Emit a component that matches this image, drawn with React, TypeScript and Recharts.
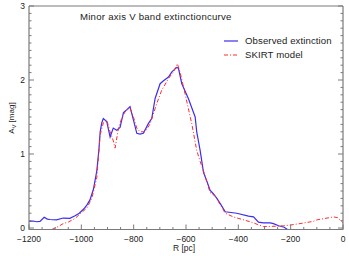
import React from 'react';
import { LineChart, Line, XAxis, YAxis } from 'recharts';

// observed minor axis extinction profile
const obsR = [
    -1200, -1185, -1170, -1158, -1142, -1130, -1120, -1095, -1069, -1044, -1024, -1008, -990, -979, -967, -954,
    -941, -933, -928, -922, -916, -903, -890, -878, -865, -852, -839, -826, -814, -801, -788, -776, -763, -744,
    -731, -718, -699, -686, -667, -654, -635, -629, -616, -591, -565, -559, -546, -533, -520, -508, -495, -482,
    -469, -450, -406, -361, -342, -323, -304, -278, -266, -246, -225, -212,
];
const obsA = [
    0.09, 0.095, 0.085, 0.09, 0.145, 0.12, 0.115, 0.11, 0.135, 0.13, 0.165, 0.2, 0.26, 0.31, 0.38, 0.52,
    0.77, 1.05, 1.3, 1.42, 1.48, 1.44, 1.23, 1.35, 1.32, 1.36, 1.56, 1.6, 1.64, 1.46, 1.28, 1.27, 1.28, 1.41,
    1.48, 1.75, 1.95, 1.99, 2.04, 2.11, 2.17, 2.16, 1.95, 1.75, 1.5, 1.3, 1.05, 0.75, 0.63, 0.51, 0.46, 0.4,
    0.33, 0.22, 0.2, 0.16, 0.15, 0.08, 0.07, 0.07, 0.06, 0.03, 0.01, -0.02,
];

// SKIRT model
const modelR = [
    -1113, -1088, -1069, -1050, -1024, -1005, -979, -960, -941, -928, -916, -903, -890, -878, -871, -858, -846,
    -833, -814, -801, -788, -776, -756, -737, -712, -693, -667, -648, -633, -623, -604, -578, -559, -546, -533,
    -508, -488, -450, -419, -355, -304, -291, -253, -227, -202, -164, -113, -100, -36, -20, 0,
];
const modelA = [
    -0.02, 0.02, 0.06, 0.08, 0.13, 0.19, 0.27, 0.4, 0.68, 1.26, 1.42, 1.46, 1.3, 1.18, 1.08, 1.35, 1.48,
    1.57, 1.62, 1.5, 1.35, 1.3, 1.3, 1.41, 1.68, 1.86, 2.02, 2.11, 2.22, 2.11, 1.82, 1.41, 1.05, 0.9, 0.77,
    0.48, 0.43, 0.2, 0.15, 0.085, 0.02, 0.02, 0.025, 0.03, 0.04, 0.06, 0.09, 0.11, 0.15, 0.14, 0.07,
];

const xMajor = [-1200, -1000, -800, -600, -400, -200, 0];
const yMajor = [0, 1, 2, 3];

const xTicks = Array.from({ length: 25 }, (_, i) => -1200 + i * 50);
const yTicks = Array.from({ length: 31 }, (_, i) => i / 10);

const observed = obsR.map((r, i) => ({ r, a: obsA[i] }));
const model = modelR.map((r, i) => ({ r, a: modelA[i] }));

const AXIS = '#7a7a7a';
const FONT = '"Liberation Sans", Arial, sans-serif';
const TXT = '#222';

const isXMajor = (v: number) => xMajor.includes(v);
const isYMajor = (v: number) => yMajor.some((m) => Math.abs(m - v) < 1e-6);
const fmt = (v: number) => (v < 0 ? '\u2212' + Math.abs(v) : String(v));

const BottomTick = (p: any) => {
    const major = isXMajor(p.payload.value);
    return (
        <g>
            <line x1={p.x} y1={p.y} x2={p.x} y2={p.y - (major ? 5 : 2.5)} stroke={AXIS} />
            {major && (
                <text x={p.x} y={p.y + 12} textAnchor="middle" fontSize={8.5} fontFamily={FONT} fill={TXT}>
                    {fmt(p.payload.value)}
                </text>
            )}
        </g>
    );
};

const TopTick = (p: any) => {
    const major = isXMajor(p.payload.value);
    return <line x1={p.x} y1={p.y} x2={p.x} y2={p.y + (major ? 5 : 2.5)} stroke={AXIS} />;
};

const LeftTick = (p: any) => {
    const major = isYMajor(p.payload.value);
    return (
        <g>
            <line x1={p.x} y1={p.y} x2={p.x + (major ? 5 : 2.5)} y2={p.y} stroke={AXIS} />
            {major && (
                <text x={p.x - 4} y={p.y + 3} textAnchor="end" fontSize={8.5} fontFamily={FONT} fill={TXT}>
                    {Math.round(p.payload.value)}
                </text>
            )}
        </g>
    );
};

const RightTick = (p: any) => {
    const major = isYMajor(p.payload.value);
    return <line x1={p.x} y1={p.y} x2={p.x - (major ? 5 : 2.5)} y2={p.y} stroke={AXIS} />;
};

export default function App() {
    return (
        <div style={{ position: 'absolute', left: 0, top: 0, width: 349, height: 256, background: '#fff' }}>
            <LineChart width={349} height={256} margin={{ top: 0, right: 0, bottom: 0, left: 0 }}>
                <XAxis
                    xAxisId="bottom"
                    orientation="bottom"
                    type="number"
                    dataKey="r"
                    domain={[-1200, 0]}
                    ticks={xTicks}
                    interval={0}
                    height={26.5}
                    tickSize={0}
                    tickMargin={0}
                    tick={BottomTick}
                    axisLine={{ stroke: AXIS, strokeWidth: 1.2 }}
                    allowDataOverflow
                />
                <XAxis
                    xAxisId="top"
                    orientation="top"
                    type="number"
                    domain={[-1200, 0]}
                    ticks={xTicks}
                    interval={0}
                    height={6}
                    tickSize={0}
                    tickMargin={0}
                    tick={TopTick}
                    axisLine={{ stroke: AXIS, strokeWidth: 1.2 }}
                    allowDataOverflow
                />
                <YAxis
                    yAxisId="left"
                    type="number"
                    domain={[-0.02, 3]}
                    ticks={yTicks}
                    interval={0}
                    width={29}
                    tickSize={0}
                    tickMargin={0}
                    tick={LeftTick}
                    axisLine={{ stroke: AXIS, strokeWidth: 1.2 }}
                    allowDataOverflow
                />
                <YAxis
                    yAxisId="right"
                    orientation="right"
                    type="number"
                    domain={[-0.02, 3]}
                    ticks={yTicks}
                    interval={0}
                    width={6}
                    tickSize={0}
                    tickMargin={0}
                    tick={RightTick}
                    axisLine={{ stroke: AXIS, strokeWidth: 1.2 }}
                    allowDataOverflow
                />
                <Line
                    xAxisId="bottom"
                    yAxisId="left"
                    data={observed}
                    dataKey="a"
                    type="linear"
                    stroke="#3a2ef0"
                    strokeWidth={1.2}
                    dot={false}
                    isAnimationActive={false}
                />
                <Line
                    xAxisId="bottom"
                    yAxisId="left"
                    data={model}
                    dataKey="a"
                    type="linear"
                    stroke="#ff2a2a"
                    strokeWidth={1}
                    strokeDasharray="4 2 1 2"
                    dot={false}
                    isAnimationActive={false}
                />
            </LineChart>
            <div style={{ position: 'absolute', left: 80, top: 11, fontSize: 9.6, letterSpacing: 0.25, fontFamily: FONT, color: TXT, whiteSpace: 'nowrap', lineHeight: '12px' }}>
                Minor axis V band extinctioncurve
            </div>
            <svg style={{ position: 'absolute', left: 224, top: 35 }} width={16} height={26}>
                <line x1={0} y1={6} x2={14} y2={6} stroke="#3a2ef0" strokeWidth={1.2} />
                <line x1={0} y1={20} x2={14} y2={20} stroke="#ff2a2a" strokeWidth={1} strokeDasharray="4 2 1 2" />
            </svg>
            <div style={{ position: 'absolute', left: 245, top: 35, fontSize: 9.6, letterSpacing: 0.1, fontFamily: FONT, color: TXT, whiteSpace: 'nowrap', lineHeight: '12px' }}>
                Observed extinction
            </div>
            <div style={{ position: 'absolute', left: 245, top: 49, fontSize: 9.6, letterSpacing: 0.1, fontFamily: FONT, color: TXT, whiteSpace: 'nowrap', lineHeight: '12px' }}>
                SKIRT model
            </div>
            <div style={{ position: 'absolute', left: 173, top: 243, fontSize: 8.5, fontFamily: FONT, color: TXT, whiteSpace: 'nowrap', lineHeight: '11px' }}>
                R [pc]
            </div>
            <div
                style={{
                    position: 'absolute',
                    left: 13,
                    top: 118,
                    transform: 'translate(-50%, -50%) rotate(-90deg)',
                    fontSize: 8,
                    fontFamily: FONT,
                    color: TXT,
                    whiteSpace: 'nowrap',
                    lineHeight: '10px',
                }}
            >
                A<sub style={{ fontSize: 5.5 }}>V</sub> [mag]
            </div>
        </div>
    );
}
